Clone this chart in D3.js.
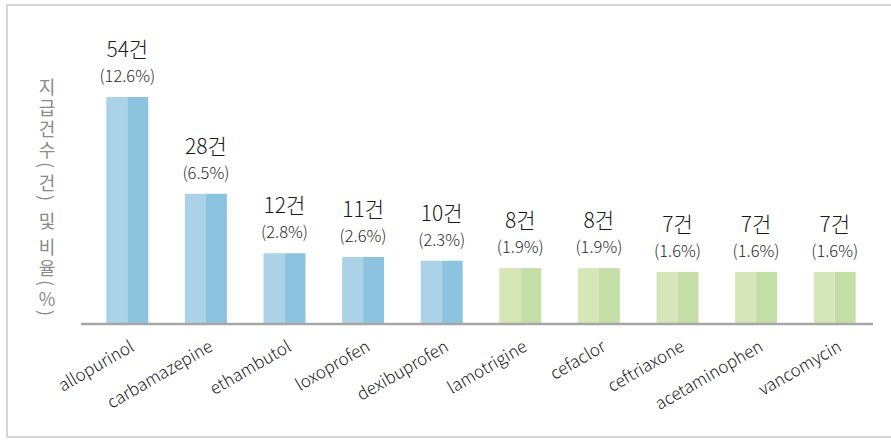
<!DOCTYPE html>
<html>
<head>
<meta charset="utf-8">
<script src="https://cdn.jsdelivr.net/npm/d3@7"></script>
<style>
    body { margin: 0; background: #fff; }
    svg { display: block; }
</style>
</head>
<body>
<div class="bar-chart"></div>
<script>
// data
let drugs = ["allopurinol", "carbamazepine", "ethambutol", "loxoprofen", "dexibuprofen",
    "lamotrigine", "cefaclor", "ceftriaxone", "acetaminophen", "vancomycin"];
let counts = [54, 28, 12, 11, 10, 8, 8, 7, 7, 7];
let percents = ["12.6", "6.5", "2.8", "2.6", "2.3", "1.9", "1.9", "1.6", "1.6", "1.6"];
let groups = ["blue", "blue", "blue", "blue", "blue", "green", "green", "green", "green", "green"];
let yDomain = [-7, 54];
let yTitle = "지급건수(건) 및 비율(%)";

let barColors = {
    blue: ["#abd2e7", "#8cc3de"],
    green: ["#d5e7b8", "#c3dfa7"]
};

let width = 891, height = 441;
let baseY = 324;
let fontMain = "'Noto Sans CJK KR', 'Open Sans', sans-serif";

let svg = d3.select(".bar-chart").append("svg")
    .attr("width", width)
    .attr("height", height)
    .attr("font-family", fontMain);

// frame
svg.append("rect")
    .attr("x", 7).attr("y", 5)
    .attr("width", 900).attr("height", 432)
    .attr("fill", "none")
    .attr("stroke", "#d6d6d6")
    .attr("stroke-width", 2);

let x = d3.scaleBand().domain(drugs)
    .range([88, 874])
    .paddingInner(0.466)
    .paddingOuter(0.233);

let y = d3.scaleLinear().domain(yDomain).range([baseY, 97]);

let data = drugs.map(function (d, i) {
    return {name: d, count: counts[i], pct: percents[i], group: groups[i]};
});

let bars = svg.selectAll(".bar")
    .data(data)
    .enter().append("g")
    .attr("class", "bar");

// two-tone bars: left half light, right half darker
bars.append("rect")
    .attr("x", d => x(d.name))
    .attr("y", d => y(d.count))
    .attr("width", x.bandwidth() / 2)
    .attr("height", d => baseY - y(d.count))
    .attr("fill", d => barColors[d.group][0]);

bars.append("rect")
    .attr("x", d => x(d.name) + x.bandwidth() / 2)
    .attr("y", d => y(d.count))
    .attr("width", x.bandwidth() / 2)
    .attr("height", d => baseY - y(d.count))
    .attr("fill", d => barColors[d.group][1]);

bars.append("text")
    .attr("x", d => x(d.name) + x.bandwidth() / 2)
    .attr("y", d => y(d.count) - 40)
    .attr("text-anchor", "middle")
    .attr("font-size", "21px")
    .attr("font-weight", 300)
    .attr("fill", "#1a1a1a")
    .text(d => d.count + "건");

bars.append("text")
    .attr("x", d => x(d.name) + x.bandwidth() / 2)
    .attr("y", d => y(d.count) - 15)
    .attr("text-anchor", "middle")
    .attr("font-size", "16.5px")
    .attr("font-weight", 300)
    .attr("fill", "#2a2a2a")
    .text(d => "(" + d.pct + "%)");

// baseline axis
let xAxis = svg.append("g")
    .attr("class", "axis-bottom")
    .attr("transform", "translate(0," + baseY + ")")
    .call(d3.axisBottom(x).tickSize(0).tickPadding(0));

xAxis.select(".domain").remove();
xAxis.append("line")
    .attr("x1", 81).attr("x2", 873)
    .attr("y1", 0).attr("y2", 0)
    .attr("stroke", "#a6a6a6")
    .attr("stroke-width", 2.5);

xAxis.selectAll(".tick text")
    .attr("font-size", "17px")
    .attr("font-family", fontMain)
    .attr("font-weight", 300)
    .attr("fill", "#1a1a1a")
    .attr("text-anchor", "end")
    .attr("dy", 0)
    .attr("transform", "translate(8,26) rotate(-30)");

// vertical title, one glyph under the other; parens turned like vertical forms
let advance = function (ch) {
    if (ch === " ") return 5;
    if (ch === "(" || ch === ")") return 12;
    if (ch === "%") return 18;
    return 21;
};
let titleChars = [];
let cursor = 75;
Array.from(yTitle).forEach(function (ch) {
    let a = advance(ch);
    if (ch !== " ") titleChars.push({ch: ch, cy: cursor + a / 2});
    cursor += a;
});

let titleX = 47;
let title = svg.append("g").attr("class", "y-title");

title.selectAll("text")
    .data(titleChars)
    .enter().append("text")
    .attr("x", titleX)
    .attr("y", d => d.cy)
    .attr("font-size", "18px")
    .attr("fill", "#8a8a8a")
    .attr("text-anchor", "middle")
    .attr("dominant-baseline", "central")
    .attr("transform", d => (d.ch === "(" || d.ch === ")") ? "rotate(90," + titleX + "," + d.cy + ")" : null)
    .text(d => d.ch);
</script>
</body>
</html>
